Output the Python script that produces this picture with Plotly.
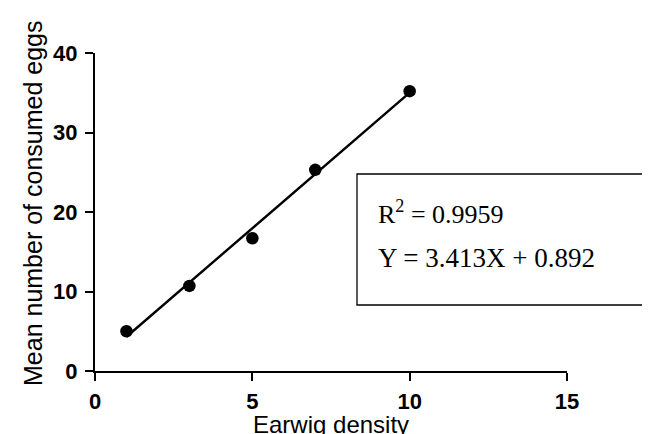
import plotly.graph_objects as go

# Data
density = [1, 3, 5, 7, 10]
eggs = [5.0, 10.7, 16.7, 25.3, 35.2]
fit_slope = 3.413
fit_intercept = 0.892
fit_x = [1, 10]
fit_y = [fit_slope * x + fit_intercept for x in fit_x]
x_ticks = [0, 5, 10, 15]
y_ticks = [0, 10, 20, 30, 40]
x_title = "Earwig density"
y_title = "Mean number of consumed eggs"
r2_text = "R<sup>2</sup> = 0.9959"
eq_text = "Y = 3.413X + 0.892"

# plot-area geometry (pixels)
L, R, T, B = 87, 559, 45, 363
W, H = 650, 434


def px(xp):
    return (xp - L) / (R - L)


def py(yp):
    return (B - yp) / (B - T)


fig = go.Figure()
fig.add_trace(go.Scatter(x=fit_x, y=fit_y, mode="lines",
                         line=dict(color="black", width=2.4), showlegend=False))
fig.add_trace(go.Scatter(x=density, y=eggs, mode="markers",
                         marker=dict(color="black", size=12.5), showlegend=False))

tickfont = dict(family="Liberation Sans, Arial", size=22, color="black", weight="bold")
axis_common = dict(showline=True, linecolor="black", linewidth=2.4,
                   ticks="outside", ticklen=8, tickwidth=2.4, tickcolor="black",
                   showgrid=False, zeroline=False, automargin=False,
                   tickfont=tickfont)

fig.update_xaxes(range=[0, 15], tickvals=x_ticks, ticklabelstandoff=1, **axis_common)
fig.update_yaxes(range=[0, 40], tickvals=y_ticks, ticklabelstandoff=3, **axis_common)

# axis titles
fig.add_annotation(xref="paper", yref="paper", x=0.5, y=py(416),
                   xanchor="center", yanchor="middle", showarrow=False,
                   text=x_title,
                   font=dict(family="Liberation Sans, Arial", size=24, color="black"))
fig.add_annotation(xref="paper", yref="paper", x=px(25), y=py(195),
                   xanchor="center", yanchor="middle", showarrow=False, textangle=-90,
                   text=y_title,
                   font=dict(family="Liberation Sans, Arial", size=25, color="black"))

# statistics box
fig.add_shape(type="rect", xref="paper", yref="paper",
              x0=px(349), x1=px(656), y0=py(297), y1=py(166),
              line=dict(color="black", width=1.3), fillcolor="white", layer="above")
fig.add_annotation(xref="paper", yref="paper", x=px(368), y=py(204),
                   xanchor="left", yanchor="middle", showarrow=False,
                   text=r2_text,
                   font=dict(family="Liberation Serif, Times New Roman", size=26, color="black"))
fig.add_annotation(xref="paper", yref="paper", x=px(368), y=py(250),
                   xanchor="left", yanchor="middle", showarrow=False,
                   text=eq_text,
                   font=dict(family="Liberation Serif, Times New Roman", size=27, color="black"))

fig.update_layout(width=W, height=H, plot_bgcolor="white", paper_bgcolor="white",
                  margin=dict(l=L, r=W - R, t=T, b=H - B))

fig.write_html("out.html")
